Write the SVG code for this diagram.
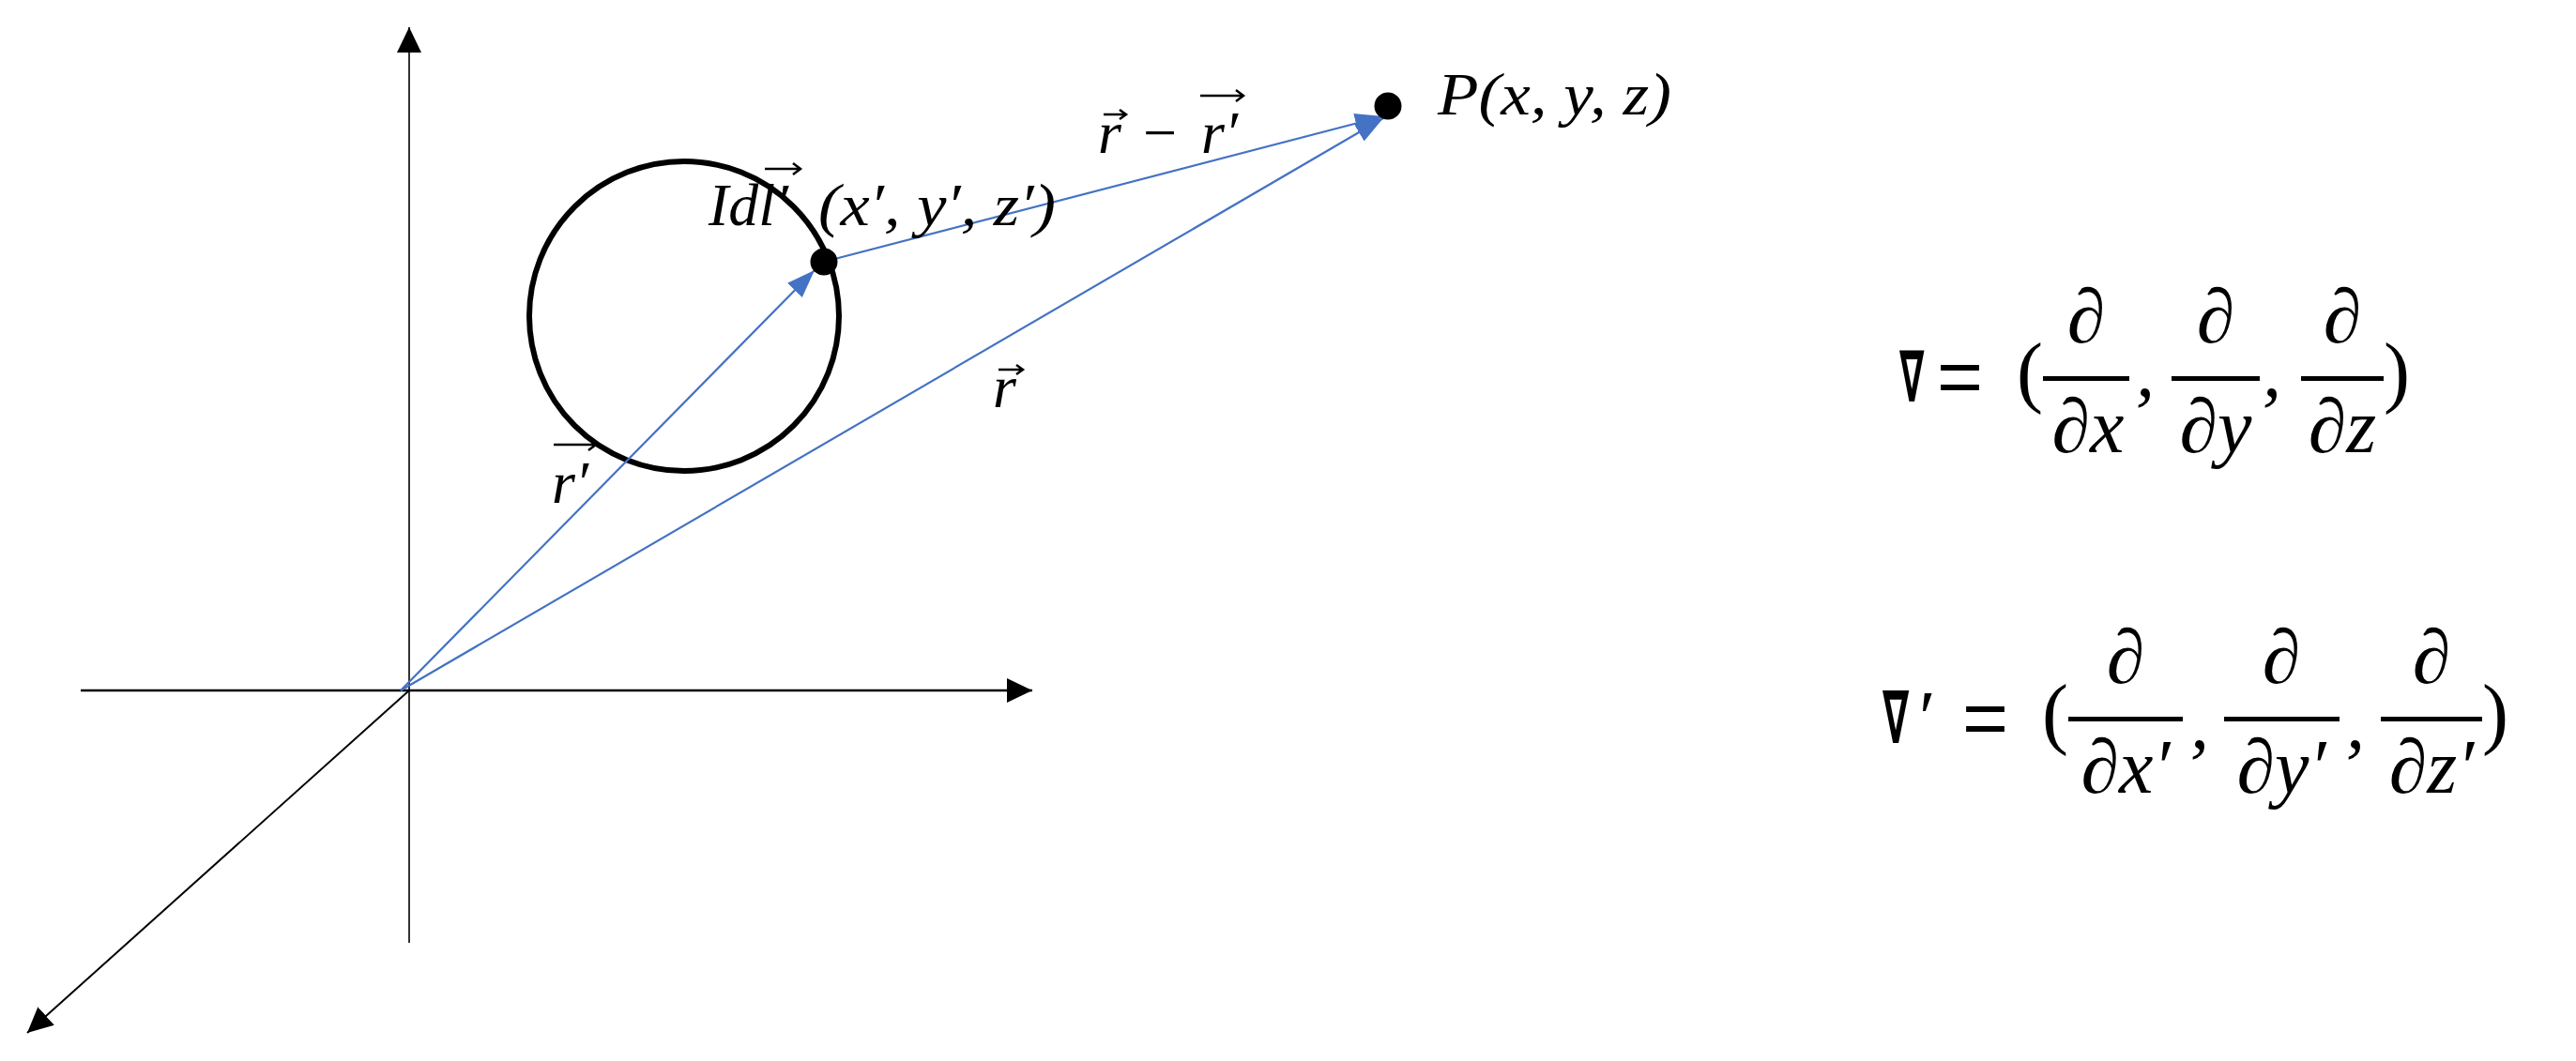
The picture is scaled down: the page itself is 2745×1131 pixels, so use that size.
<svg xmlns="http://www.w3.org/2000/svg" width="2745" height="1131" viewBox="0 0 2745 1131">
<defs>
<style>
.ax{stroke:#000;fill:none}
.bl{stroke:#4472C4;stroke-width:2.2;fill:none;marker-end:url(#mb)}
.m{font-family:"Liberation Serif",serif;font-style:italic;fill:#000}
.u{font-family:"Liberation Serif",serif;fill:#000}
.nb{font-family:"DejaVu Sans",sans-serif;font-weight:bold;fill:#000}
.ov{stroke:#000;stroke-width:2.5;fill:none}
.bar{fill:#000}
</style>
<marker id="mk" markerUnits="userSpaceOnUse" markerWidth="30" markerHeight="30" refX="27" refY="13" orient="auto"><path d="M0,0 L27,13 L0,26 z" fill="#000"/></marker>
<marker id="mb" markerUnits="userSpaceOnUse" markerWidth="32" markerHeight="26" refX="30" refY="11" orient="auto"><path d="M0,0 L30,11 L0,22 z" fill="#4472C4"/></marker>
</defs>
<g id="axes">
<line class="ax" x1="436" y1="1005" x2="436" y2="29" stroke-width="1.6" marker-end="url(#mk)"/>
<line class="ax" x1="86" y1="736" x2="1100" y2="736" stroke-width="2.6" marker-end="url(#mk)"/>
<line class="ax" x1="436" y1="736" x2="29" y2="1101" stroke-width="2" marker-end="url(#mk)"/>
</g>
<g id="loop">
<circle cx="729" cy="337" r="165" fill="none" stroke="#000" stroke-width="6"/>
</g>
<g id="connectors">
<line class="bl" x1="427" y1="736" x2="868" y2="288"/>
<line class="bl" x1="427" y1="736" x2="1474" y2="126"/>
<line class="bl" x1="878" y1="279" x2="1474" y2="124"/>
</g>
<g id="source-point">
<circle cx="878" cy="279" r="14.5" fill="#000"/>
<text class="m" x="755" y="240" font-size="64" textLength="85" lengthAdjust="spacingAndGlyphs">Idl′</text>
<path class="ov" d="M815 180 H853 M845 174 L853 180 L845 186"/>
<text class="m" x="872" y="240" font-size="64" textLength="253" lengthAdjust="spacingAndGlyphs">(x′, y′, z′)</text>
</g>
<g id="field-point">
<circle cx="1479" cy="113" r="14.5" fill="#000"/>
<text class="m" x="1532" y="122" font-size="64" textLength="249" lengthAdjust="spacingAndGlyphs">P(x, y, z)</text>
</g>
<g id="label-r-minus-rp">
<text class="m" x="1170" y="163" font-size="64">r</text>
<path class="ov" d="M1176 122 H1200 M1193 117 L1200 122 L1193 127"/>
<text class="u" x="1218" y="163" font-size="64">−</text>
<text class="m" x="1280" y="163" font-size="64">r′</text>
<path class="ov" d="M1279 102 H1325 M1317 96 L1325 102 L1317 108"/>
</g>
<g id="label-r">
<text class="m" x="1058" y="434" font-size="64">r</text>
<path class="ov" d="M1064 394 H1090 M1083 389 L1090 394 L1083 399"/>
</g>
<g id="label-rp">
<text class="m" x="588" y="536" font-size="64">r′</text>
<path class="ov" d="M590 474 H635 M627 468 L635 474 L627 480"/>
</g>
<g id="eq-nabla">
<text class="nb" transform="translate(2024,428) scale(0.5,1)" font-size="76">∇</text>
<text x="2064" y="430" font-family="Liberation Sans,sans-serif" font-size="84">=</text>
<text class="u" x="2149" y="424" font-size="84">(</text>
<rect class="bar" x="2177" y="401" width="92" height="5"/>
<rect class="bar" x="2314" y="401" width="94" height="5"/>
<rect class="bar" x="2452" y="401" width="88" height="5"/>
<text class="m" x="2223" y="365" font-size="82" text-anchor="middle">∂</text>
<text class="m" x="2361" y="365" font-size="82" text-anchor="middle">∂</text>
<text class="m" x="2496" y="365" font-size="82" text-anchor="middle">∂</text>
<text class="m" x="2225" y="482" font-size="82" text-anchor="middle">∂x</text>
<text class="m" x="2361" y="482" font-size="82" text-anchor="middle">∂y</text>
<text class="m" x="2496" y="482" font-size="82" text-anchor="middle">∂z</text>
<text class="m" x="2276" y="422" font-size="80">,</text>
<text class="m" x="2411" y="422" font-size="80">,</text>
<text class="u" x="2540" y="424" font-size="84">)</text>
</g>
<g id="eq-nabla-prime">
<text class="nb" transform="translate(2006,792) scale(0.52,1)" font-size="78">∇</text>
<text class="u" x="2045" y="792" font-size="80">′</text>
<text x="2091" y="794" font-family="Liberation Sans,sans-serif" font-size="84">=</text>
<text class="u" x="2176" y="788" font-size="84">(</text>
<rect class="bar" x="2204" y="764" width="122" height="5"/>
<rect class="bar" x="2370" y="764" width="123" height="5"/>
<rect class="bar" x="2537" y="764" width="108" height="5"/>
<text class="m" x="2265" y="728" font-size="82" text-anchor="middle">∂</text>
<text class="m" x="2431" y="728" font-size="82" text-anchor="middle">∂</text>
<text class="m" x="2591" y="728" font-size="82" text-anchor="middle">∂</text>
<text class="m" x="2265" y="845" font-size="82" text-anchor="middle">∂x′</text>
<text class="m" x="2431" y="845" font-size="82" text-anchor="middle">∂y′</text>
<text class="m" x="2591" y="845" font-size="82" text-anchor="middle">∂z′</text>
<text class="m" x="2334" y="797" font-size="80">,</text>
<text class="m" x="2500" y="797" font-size="80">,</text>
<text class="u" x="2645" y="788" font-size="84">)</text>
</g>
</svg>
